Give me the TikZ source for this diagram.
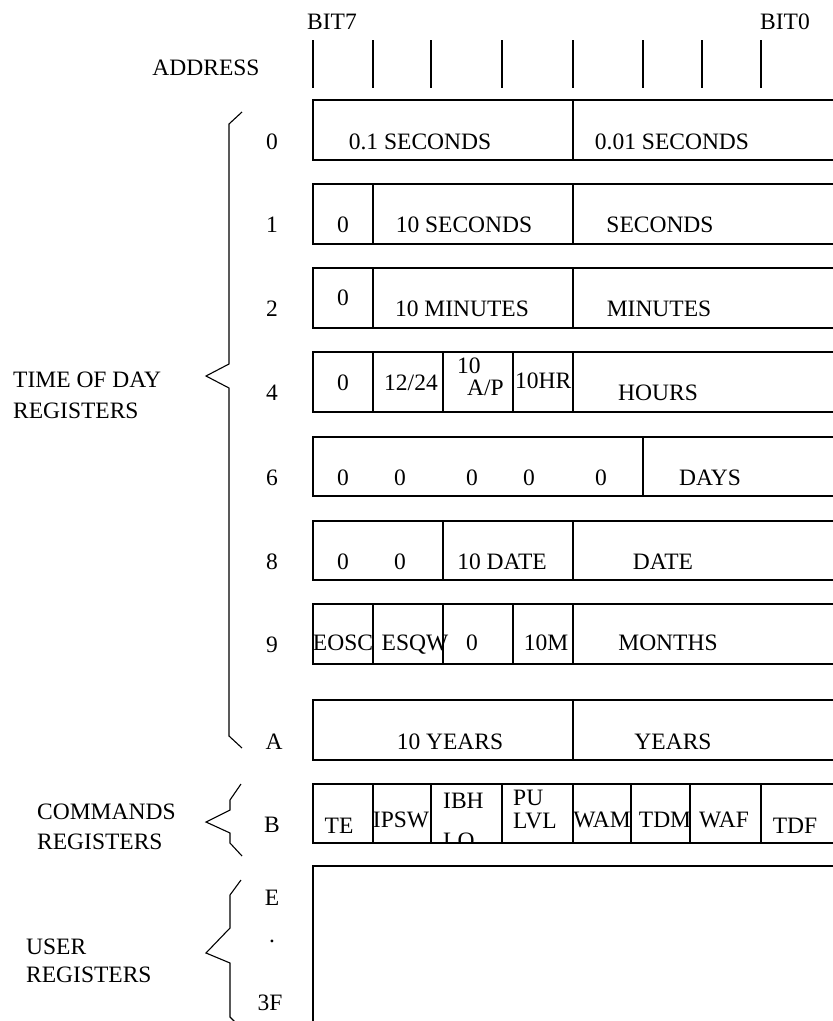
\documentclass[tikz,border=0pt]{standalone}
\usepackage{fontspec}
\setmainfont{Liberation Serif}

\tikzset{
  txt/.style={inner sep=0pt, text height=15.5pt, text depth=0pt, font=\fontsize{23.5}{29}\selectfont},
  regbox/.style={line width=1.2pt},
  brace/.style={line width=1.1pt}
}

\begin{document}
\begin{tikzpicture}[x=1pt, y=-1pt]
        \useasboundingbox (0,0) rectangle (833,1021);

        % header
        \node[txt] (bit7) at (332, 22) {BIT7};
        \node[txt] (bit0) at (785, 22) {BIT0};
        \node[txt] (addr) at (206, 68) {ADDRESS};
        \draw[regbox] (313,40) -- (313,88);
        \draw[regbox] (373,40) -- (373,88);
        \draw[regbox] (431,40) -- (431,88);
        \draw[regbox] (502,40) -- (502,88);
        \draw[regbox] (573,40) -- (573,88);
        \draw[regbox] (643,40) -- (643,88);
        \draw[regbox] (702,40) -- (702,88);
        \draw[regbox] (761,40) -- (761,88);

        % register 0
        \draw[regbox] (836,100) -- (313,100) -- (313,160) -- (836,160);
        \draw[regbox] (573,100) -- (573,160);
        \node[txt] (a0) at (272, 142) {0};
        \node[txt] (tenth) at (420, 142) {0.1 SECONDS};
        \node[txt] (hundredth) at (672, 142) {0.01 SECONDS};

        % register 1
        \draw[regbox] (836,184) -- (313,184) -- (313,244) -- (836,244);
        \draw[regbox] (373,184) -- (373,244);
        \draw[regbox] (573,184) -- (573,244);
        \node[txt] (a1) at (272, 225) {1};
        \node[txt] (z1) at (343, 225) {0};
        \node[txt] (tensec) at (464, 225) {10 SECONDS};
        \node[txt] (sec) at (660, 225) {SECONDS};

        % register 2
        \draw[regbox] (836,268) -- (313,268) -- (313,328) -- (836,328);
        \draw[regbox] (373,268) -- (373,328);
        \draw[regbox] (573,268) -- (573,328);
        \node[txt] (a2) at (272, 309) {2};
        \node[txt] (z2) at (343, 298) {0};
        \node[txt] (tenmin) at (462, 309) {10 MINUTES};
        \node[txt] (min) at (659, 309) {MINUTES};

        % register 4
        \draw[regbox] (836,352) -- (313,352) -- (313,412) -- (836,412);
        \draw[regbox] (373,352) -- (373,412);
        \draw[regbox] (443,352) -- (443,412);
        \draw[regbox] (513,352) -- (513,412);
        \draw[regbox] (573,352) -- (573,412);
        \node[txt] (a4) at (272, 393) {4};
        \node[txt] (z4) at (343, 383) {0};
        \node[txt] (mode) at (411, 383) {12/24};
        \node[txt, anchor=west] (ten4) at (457, 366) {10};
        \node[txt, anchor=west] (ampm) at (467, 388) {A/P};
        \node[txt, anchor=west] (tenhr) at (515, 381) {10HR};
        \node[txt] (hours) at (658, 393) {HOURS};

        % register 6
        \draw[regbox] (836,437) -- (313,437) -- (313,496) -- (836,496);
        \draw[regbox] (643,437) -- (643,496);
        \node[txt] (a6) at (272, 478) {6};
        \node[txt] (z6a) at (343, 478) {0};
        \node[txt] (z6b) at (400, 478) {0};
        \node[txt] (z6c) at (472, 478) {0};
        \node[txt] (z6d) at (529, 478) {0};
        \node[txt] (z6e) at (601, 478) {0};
        \node[txt] (days) at (710, 478) {DAYS};

        % register 8
        \draw[regbox] (836,521) -- (313,521) -- (313,580) -- (836,580);
        \draw[regbox] (443,521) -- (443,580);
        \draw[regbox] (573,521) -- (573,580);
        \node[txt] (a8) at (272, 562) {8};
        \node[txt] (z8a) at (343, 562) {0};
        \node[txt] (z8b) at (400, 562) {0};
        \node[txt] (tendate) at (502, 562) {10 DATE};
        \node[txt] (date) at (663, 562) {DATE};

        % register 9
        \draw[regbox] (836,604) -- (313,604) -- (313,664) -- (836,664);
        \draw[regbox] (373,604) -- (373,664);
        \draw[regbox] (443,604) -- (443,664);
        \draw[regbox] (513,604) -- (513,664);
        \draw[regbox] (573,604) -- (573,664);
        \node[txt] (a9) at (272, 645) {9};
        \node[txt] (eosc) at (343, 643) {EOSC};
        \node[txt] (esqw) at (415, 643) {ESQW};
        \node[txt] (z9) at (472, 643) {0};
        \node[txt] (tenm) at (546, 643) {10M};
        \node[txt] (months) at (668, 643) {MONTHS};

        % register A
        \draw[regbox] (836,700) -- (313,700) -- (313,760) -- (836,760);
        \draw[regbox] (573,700) -- (573,760);
        \node[txt] (aA) at (274, 742) {A};
        \node[txt] (tenyr) at (450, 742) {10 YEARS};
        \node[txt] (yr) at (673, 742) {YEARS};

        % register B
        \draw[regbox] (836,784) -- (313,784) -- (313,843) -- (836,843);
        \draw[regbox] (373,784) -- (373,843);
        \draw[regbox] (431,784) -- (431,843);
        \draw[regbox] (502,784) -- (502,843);
        \draw[regbox] (573,784) -- (573,843);
        \draw[regbox] (631,784) -- (631,843);
        \draw[regbox] (690,784) -- (690,843);
        \draw[regbox] (761,784) -- (761,843);
        \node[txt] (aB) at (272, 825) {B};
        \node[txt] (te) at (339, 826) {TE};
        \node[txt] (ipsw) at (401, 820) {IPSW};
        \node[txt, anchor=west] (ibh) at (443, 801) {IBH};
        \begin{scope}
          \clip (431,784) rectangle (502,843);
          \node[txt, anchor=west] (lo) at (443, 841) {LO};
        \end{scope}
        \node[txt, anchor=west] (pu) at (513, 798) {PU};
        \node[txt, anchor=west] (lvl) at (513, 821) {LVL};
        \node[txt] (wam) at (602, 820) {WAM};
        \node[txt] (tdm) at (665, 820) {TDM};
        \node[txt] (waf) at (724, 820) {WAF};
        \node[txt] (tdf) at (795, 826) {TDF};

        % user registers
        \draw[regbox] (836,866) -- (313,866) -- (313,1030);
        \node[txt] (aE) at (272, 898) {E};
        \node[txt, anchor=base] (dots) at (272, 942) {.};
        \node[txt] (a3F) at (270, 1003) {3F};

        % groups
        \draw[brace] (242,112) -- (229,124) -- (229,364) -- (206,376) -- (229,388) -- (229,736) -- (242,748);
        \node[txt, anchor=west] (tod1) at (13, 380) {TIME OF DAY};
        \node[txt, anchor=west] (tod2) at (13, 411) {REGISTERS};

        \draw[brace] (241,784) -- (230,800) -- (230,810) -- (206,822) -- (230,833) -- (230,843) -- (242,856);
        \node[txt, anchor=west] (cmd1) at (37, 812) {COMMANDS};
        \node[txt, anchor=west] (cmd2) at (37, 842) {REGISTERS};

        \draw[brace] (241,880) -- (230,895) -- (230,928) -- (206,953) -- (230,963) -- (230,1017) -- (238,1025);
        \node[txt, anchor=west] (usr1) at (26, 947) {USER};
        \node[txt, anchor=west] (usr2) at (26, 975) {REGISTERS};

    \end{tikzpicture}
\end{document}
